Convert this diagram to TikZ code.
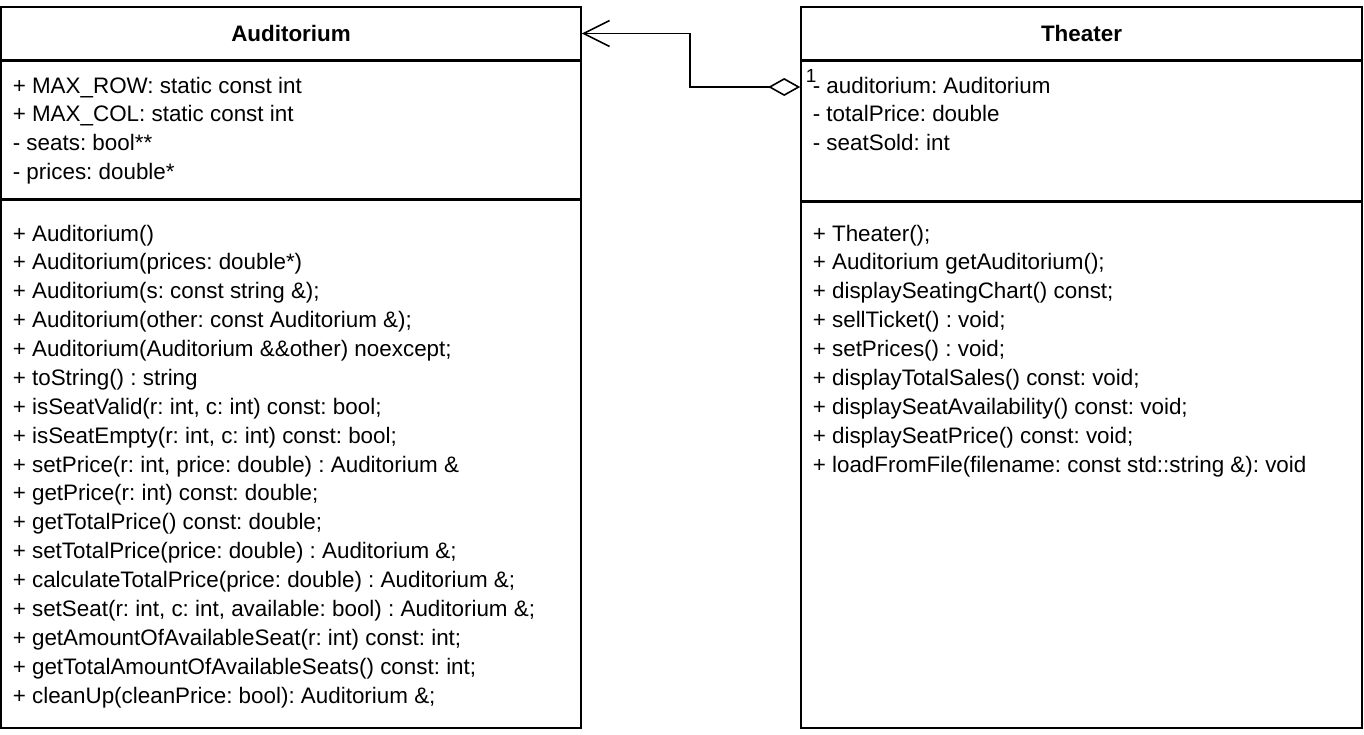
\documentclass[tikz,border=0pt]{standalone}
\usepackage{fontspec}
\setmainfont{Liberation Sans}
\usetikzlibrary{positioning,arrows.meta}

\begin{document}
\frenchspacing
\begin{tikzpicture}[x=1pt, y=-1pt, line width=1.6pt,
  classbox/.style={draw, rectangle, inner sep=0pt},
  member/.style={anchor=base west, inner sep=0pt, font=\fontsize{22.4}{26}\selectfont}]
\useasboundingbox (0,0) rectangle (1364,734);
% Auditorium class (left)
\node[classbox, minimum width=580pt, minimum height=53pt, font=\fontsize{22.4}{26}\selectfont\bfseries] (audHead) at (291,33.5) {Auditorium};
\node[classbox, minimum width=580pt, minimum height=137pt, below=0pt of audHead] (audAttr) {};
\node[classbox, minimum width=580pt, minimum height=528pt, below=0pt of audAttr] (audOps) {};
\foreach [count=\i] \t in {+ MAX\_ROW: static const int, + MAX\_COL: static const int,
    - seats: bool**, - prices: double*}
  \node[member] (audA\i) at (12, 93+28.9*\i-28.9) {\t};
\foreach [count=\i] \t in {+ Auditorium(), + Auditorium(prices: double*),
    + Auditorium(s: const string \&);, + Auditorium(other: const Auditorium \&);,
    + Auditorium(Auditorium \&\&other) noexcept;, + toString() : string,
    {+ isSeatValid(r: int, c: int) const: bool;}, {+ isSeatEmpty(r: int, c: int) const: bool;},
    {+ setPrice(r: int, price: double) : Auditorium \&}, + getPrice(r: int) const: double;,
    + getTotalPrice() const: double;, + setTotalPrice(price: double) : Auditorium \&;,
    + calculateTotalPrice(price: double) : Auditorium \&;,
    {+ setSeat(r: int, c: int, available: bool) : Auditorium \&;},
    + getAmountOfAvailableSeat(r: int) const: int;, + getTotalAmountOfAvailableSeats() const: int;,
    + cleanUp(cleanPrice: bool): Auditorium \&;}
  \node[member] (audM\i) at (12, 241+28.875*\i-28.875) {\t};
% Theater class (right)
\node[classbox, minimum width=561pt, minimum height=53pt, font=\fontsize{22.4}{26}\selectfont\bfseries] (thrHead) at (1081.5,33.5) {Theater};
\node[classbox, minimum width=561pt, minimum height=139pt, below=0pt of thrHead] (thrAttr) {};
\node[classbox, minimum width=561pt, minimum height=526pt, below=0pt of thrAttr] (thrOps) {};
\foreach [count=\i] \t in {- auditorium: Auditorium, - totalPrice: double, - seatSold: int}
  \node[member] (thrA\i) at (812, 93+28.9*\i-28.9) {\t};
\foreach [count=\i] \t in {+ Theater();, + Auditorium getAuditorium();,
    + displaySeatingChart() const;, + sellTicket() : void;, + setPrices() : void;,
    + displayTotalSales() const: void;, + displaySeatAvailability() const: void;,
    + displaySeatPrice() const: void;, + loadFromFile(filename: const std::string \&): void}
  \node[member] (thrM\i) at (812, 241+28.875*\i-28.875) {\t};
% Aggregation
\coordinate (aggr) at (thrAttr.west |- 0,87);
\draw[{Diamond[open, length=32pt, width=18pt]}-{Straight Barb[length=26pt, width=26pt]}]
  (aggr) -- (690,87) |- (audHead.east);
\node[member, font=\fontsize{19}{20}\selectfont] (mult) at (805,82) {1};
\end{tikzpicture}
\end{document}
